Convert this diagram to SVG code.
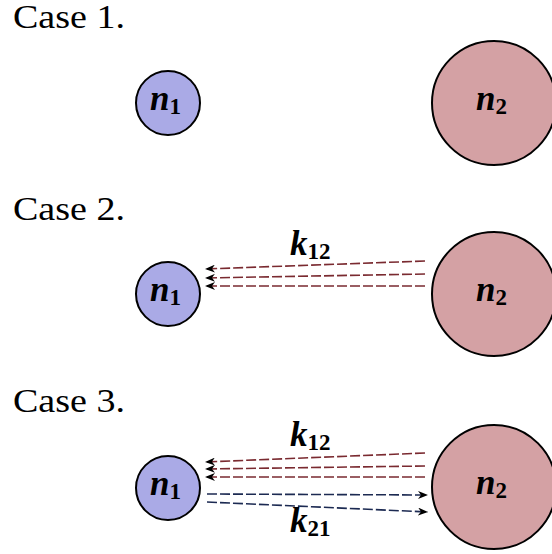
<svg xmlns="http://www.w3.org/2000/svg" width="552" height="554" viewBox="0 0 552 554">
<style>
.case{font-family:'Liberation Serif',serif;font-size:33px;fill:#000}
.n1{fill:#aaaae6;stroke:#000;stroke-width:2}
.n2{fill:#d4a1a4;stroke:#000;stroke-width:2}
.m{font-family:'Liberation Serif',serif;font-style:italic;font-weight:bold;font-size:35px;fill:#000}
.sub{font-style:normal;font-weight:bold;font-size:23px}
.r{stroke:#7a2a30;stroke-width:1.6;stroke-dasharray:10 3;fill:none;marker-end:url(#ah)}
.b{stroke:#1c2a52;stroke-width:1.6;stroke-dasharray:10 3;fill:none;marker-end:url(#ah)}
</style>
<defs>
<marker id="ah" markerWidth="11" markerHeight="8" refX="10" refY="4" orient="auto" markerUnits="userSpaceOnUse">
<path d="M0,0 L10,4 L0,8 L3,4 Z" fill="#000"/>
</marker>
</defs>
<text class="case" x="13" y="28" textLength="112" lengthAdjust="spacingAndGlyphs">Case 1.</text>
<text class="case" x="13" y="220" textLength="112" lengthAdjust="spacingAndGlyphs">Case 2.</text>
<text class="case" x="13" y="412" textLength="112" lengthAdjust="spacingAndGlyphs">Case 3.</text>
<g id="c1n1"><circle class="n1" cx="168" cy="103" r="32"/><text class="m" x="150" y="110">n<tspan class="sub" dy="4">1</tspan></text></g>
<g id="c1n2"><circle class="n2" cx="494" cy="103" r="62"/><text class="m" x="476" y="110">n<tspan class="sub" dy="4">2</tspan></text></g>
<g id="c2n1"><circle class="n1" cx="168" cy="294" r="32"/><text class="m" x="150" y="301">n<tspan class="sub" dy="4">1</tspan></text></g>
<g id="c2n2"><circle class="n2" cx="494" cy="294" r="62"/><text class="m" x="476" y="301">n<tspan class="sub" dy="4">2</tspan></text></g>
<g id="c3n1"><circle class="n1" cx="168" cy="488" r="32"/><text class="m" x="150" y="495">n<tspan class="sub" dy="4">1</tspan></text></g>
<g id="c3n2"><circle class="n2" cx="494" cy="487" r="62"/><text class="m" x="476" y="494">n<tspan class="sub" dy="4">2</tspan></text></g>
<g id="connectors">
<line class="r" x1="425" y1="261" x2="205" y2="269"/>
<line class="r" x1="425" y1="274" x2="205" y2="278"/>
<line class="r" x1="425" y1="286" x2="205" y2="286"/>
<text class="m" x="290" y="255">k<tspan class="sub" dy="4">12</tspan></text>
<line class="r" x1="425" y1="453" x2="205" y2="462"/>
<line class="r" x1="425" y1="466" x2="205" y2="469"/>
<line class="r" x1="425" y1="477" x2="205" y2="477"/>
<text class="m" x="290" y="446">k<tspan class="sub" dy="4">12</tspan></text>
<line class="b" x1="207" y1="494" x2="428" y2="495"/>
<line class="b" x1="207" y1="502" x2="428" y2="512"/>
<text class="m" x="290" y="532">k<tspan class="sub" dy="4">21</tspan></text>
</g>
</svg>
